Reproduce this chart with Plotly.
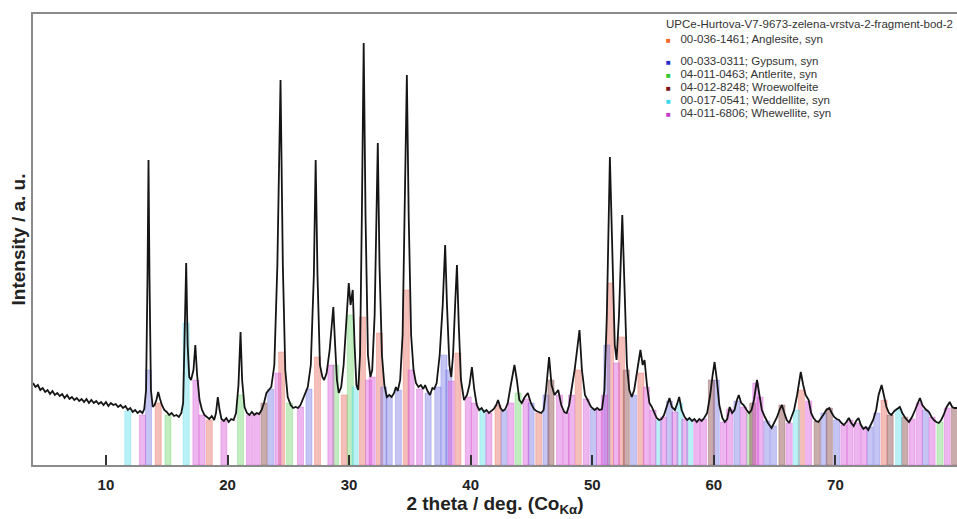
import plotly.graph_objects as go

# ---------------- measured pattern (2theta, intensity a.u.) ----------------
two_theta = [
    4.0, 4.2, 4.4, 4.6, 4.8, 5.0, 5.2, 5.4, 5.6, 5.8, 6.0, 6.2, 6.4, 6.6, 6.8, 7.0, 7.2, 7.4, 7.6, 7.8,
    8.0, 8.2, 8.4, 8.6, 8.8, 9.0, 9.2, 9.4, 9.6, 9.8, 10.0, 10.2, 10.4, 10.6, 10.8, 11.0, 11.2, 11.4, 11.6, 11.8,
    12.0, 12.2, 12.4, 12.6, 12.8, 13.0, 13.15,
    13.3, 13.42, 13.5, 13.58, 13.7, 13.85, 14.0, 14.15, 14.3, 14.45, 14.6, 14.8, 15.0, 15.2, 15.4, 15.6, 15.8, 16.0, 16.2, 16.35,
    16.45, 16.6, 16.72, 16.85, 17.0, 17.2, 17.35, 17.5, 17.7, 17.9, 18.1, 18.3, 18.5, 18.7, 18.9, 19.05, 19.2, 19.35, 19.5, 19.7,
    19.9, 20.1, 20.3, 20.5, 20.7,
    20.9, 21.07, 21.2, 21.4, 21.6, 21.8, 22.0, 22.2, 22.4, 22.6, 22.8, 23.0, 23.2, 23.4, 23.6, 23.85,
    24.1, 24.36, 24.55, 24.75, 24.95, 25.2, 25.4, 25.6, 25.8, 26.0, 26.2, 26.4, 26.6, 26.85,
    27.1, 27.25, 27.4, 27.6, 27.8, 27.95, 28.15, 28.4,
    28.55, 28.7, 28.85, 29.0, 29.15, 29.35, 29.55,
    29.75, 29.97, 30.12, 30.3, 30.45, 30.6, 30.75, 30.9,
    31.05, 31.2, 31.35, 31.55, 31.75, 31.9, 32.1,
    32.22, 32.36, 32.5, 32.7, 32.9, 33.1, 33.3, 33.5, 33.7, 33.85, 34.0, 34.2, 34.4,
    34.6, 34.75, 34.9, 35.1, 35.3, 35.5, 35.7, 35.9, 36.1, 36.25, 36.45, 36.65, 36.85, 37.0, 37.2, 37.45,
    37.7, 37.9, 38.05, 38.25, 38.4, 38.55,
    38.72, 38.87, 39.02, 39.2, 39.45, 39.7, 39.9,
    40.1, 40.3, 40.5, 40.7, 40.9, 41.1, 41.3, 41.5, 41.7, 41.9, 42.1, 42.25, 42.45, 42.65, 42.85, 43.05, 43.3,
    43.6, 43.8, 44.0, 44.2, 44.45, 44.7, 44.95, 45.2, 45.4, 45.6, 45.8, 46.0, 46.2,
    46.45, 46.65, 46.9, 47.2, 47.45, 47.7, 47.9, 48.1, 48.35, 48.55,
    48.95, 49.15, 49.4, 49.7, 49.9, 50.2, 50.4, 50.6, 50.8, 51.0, 51.2,
    51.45, 51.65, 51.85, 52.0, 52.2, 52.47, 52.65, 52.85, 53.05, 53.25, 53.45, 53.7,
    53.96, 54.15, 54.3, 54.5, 54.7, 54.9, 55.1, 55.3, 55.5, 55.7, 55.9, 56.1, 56.35, 56.55, 56.8, 57.0,
    57.15, 57.35, 57.6, 57.8, 58.0, 58.2, 58.4, 58.6, 58.8, 59.0, 59.2, 59.45, 59.7,
    59.9, 60.06, 60.25, 60.45, 60.7, 60.9, 61.1, 61.3, 61.5, 61.7, 61.9, 62.05, 62.25, 62.45, 62.7, 62.9,
    63.1, 63.3,
    63.55, 63.75, 63.95, 64.2, 64.45, 64.75, 64.95, 65.2, 65.4, 65.6, 65.8, 66.0, 66.2, 66.4, 66.6, 66.85,
    67.15, 67.35, 67.55, 67.8, 68.0, 68.2, 68.4, 68.6, 68.8, 69.0, 69.25, 69.5, 69.7, 69.9, 70.1, 70.3,
    70.5, 70.7, 70.9, 71.1, 71.3, 71.5, 71.7, 71.9, 72.1, 72.3, 72.5, 72.7, 72.9, 73.1, 73.35, 73.55,
    73.8, 74.0, 74.2, 74.4, 74.6, 74.85, 75.05, 75.3, 75.5, 75.75, 76.05, 76.3, 76.55, 76.75, 76.95,
    77.15, 77.4, 77.7, 77.9, 78.1, 78.3, 78.5, 78.7, 78.9, 79.15, 79.4, 79.6, 79.8, 80.0,
]
intensity = [
    82, 78, 80, 75, 77, 73, 75, 71, 74, 70, 72, 69, 71, 67, 70, 66, 68, 65, 67, 64,
    66, 63, 66, 62, 65, 62, 64, 61, 63, 60, 63, 59, 62, 60, 61, 58, 60, 57, 59, 55,
    57, 53, 55, 52, 54, 52, 56,
    75, 190, 305, 190, 75, 58, 60, 65, 73, 66, 60, 55, 53, 50, 52, 49, 50, 48, 52, 62,
    110, 202, 120, 88, 85, 95, 120, 90, 65, 55, 50, 48, 46, 49, 45, 52, 68, 55, 46, 44,
    47, 43, 46, 45, 52,
    80, 133, 85, 58, 52, 50, 53, 50, 52, 51, 55, 62, 72, 75, 78, 100,
    200, 385, 200, 95, 68, 60, 57, 58, 57, 60, 66, 72, 78, 100,
    190, 305, 190, 100, 88, 85, 92, 115,
    135, 158, 120, 85, 72, 78, 100,
    140, 182, 160, 175, 120, 80, 75, 110,
    250, 422, 250, 110, 88, 95, 150,
    230, 322, 200, 110, 80, 68, 70, 68, 72, 78, 74, 85, 130,
    280, 390, 250, 130, 95, 82, 78, 80, 76, 80, 74, 70, 77, 76, 82, 110,
    160, 220, 160, 100, 88, 110,
    160, 200, 140, 85, 65, 70, 80,
    98, 75, 60, 55, 57, 53, 55, 52, 54, 56, 60, 65, 57, 54, 56, 62, 80,
    100, 85, 65, 62, 68, 72, 62, 56, 54, 53, 52, 55, 75,
    108, 80, 70, 75, 60, 53, 52, 60, 80, 95,
    135, 95, 70, 62, 58, 55, 57, 55, 56, 75, 150,
    308, 200, 120, 105, 150, 250, 170, 100, 75, 68, 75, 95,
    115, 100, 105, 80, 62, 58, 52, 47, 45, 46, 50, 58, 67, 58, 55, 62,
    68, 55, 48, 45, 47, 44, 46, 43, 46, 44, 47, 52, 70,
    90, 103, 85, 60, 47, 43, 46, 58, 52, 55, 65, 70, 62, 60, 55, 52,
    55, 65,
    85, 72, 55, 48, 42, 37, 42, 48, 55, 60, 52, 45, 42, 48, 55, 70,
    93, 80, 70, 65, 52, 47, 44, 43, 46, 50, 55, 57, 52, 48, 46, 45,
    42, 40, 43, 47, 42, 39, 44, 47, 40, 36, 38, 35, 40, 45, 55, 70,
    80, 70, 58, 52, 50, 54, 56, 58, 52, 47, 43, 48, 55, 62, 67,
    60, 56, 53, 48, 45, 43, 42, 45, 50, 58, 63, 58, 57, 57,
]

# ---------------- reference phases (stick positions / heights) ----------------
anglesite_x = [14.3, 18.5, 24.45, 27.4, 29.6, 31.1, 32.5, 34.7, 38.95, 42.25, 45.6, 48.85, 51.5, 52.4, 54.0, 67.2, 74.0]
anglesite_h = [62, 45, 113, 108, 70, 148, 132, 175, 112, 60, 52, 95, 182, 128, 92, 75, 65]

gypsum_x = [13.5, 23.55, 26.7, 32.85, 33.3, 34.05, 36.5, 37.3, 37.8, 38.2, 42.75, 44.97, 46.2, 50.1, 51.2,
            53.4, 56.35, 60.2, 61.9, 64.35, 64.9, 69.05, 70.1, 72.85, 73.4, 77.4]
gypsum_h = [95, 76, 76, 78, 68, 75, 72, 78, 110, 95, 55, 62, 70, 56, 120, 70, 64, 85, 64, 44, 39, 52, 45, 38, 52, 55]

antlerite_x = [15.1, 21.07, 25.1, 28.9, 30.1, 43.9, 62.95, 78.6]
antlerite_h = [50, 70, 62, 100, 150, 72, 53, 43]

wroewolfeite_x = [23.0, 46.6, 52.8, 59.8, 63.2, 65.6, 68.5, 69.5, 74.5, 75.7, 79.8]
wroewolfeite_h = [62, 85, 95, 85, 62, 60, 44, 57, 50, 48, 57]

weddellite_x = [11.8, 16.6, 30.5, 41.0, 55.45, 57.2, 58.0, 66.8, 75.2]
weddellite_h = [54, 142, 78, 55, 45, 62, 46, 55, 56]

whewellite_x = [13.0, 17.4, 17.9, 19.7, 21.8, 22.4, 24.15, 26.0, 28.5, 31.6, 31.9, 35.1, 35.8, 38.4, 39.8,
                40.3, 41.5, 43.3, 44.55, 47.3, 47.85, 48.3, 49.5, 50.6, 51.0, 52.0, 54.45, 55.0, 55.85, 56.8,
                57.6, 58.6, 59.15, 60.8, 61.3, 62.45, 63.45, 63.8, 66.2, 67.8, 70.7, 71.2, 71.8, 72.35, 76.3,
                76.9, 77.95, 79.2]
whewellite_h = [50, 85, 50, 44, 50, 52, 92, 58, 100, 85, 88, 95, 76, 84, 68,
                62, 52, 62, 66, 70, 52, 70, 66, 55, 70, 102, 78, 55, 48, 53,
                46, 44, 46, 43, 56, 58, 82, 68, 42, 64, 40, 45, 42, 38, 46,
                62, 48, 57]

legend_title = "UPCe-Hurtova-V7-9673-zelena-vrstva-2-fragment-bod-2"
phase_names = ["00-036-1461; Anglesite, syn", "00-033-0311; Gypsum, syn", "04-011-0463; Antlerite, syn",
               "04-012-8248; Wroewolfeite", "00-017-0541; Weddellite, syn", "04-011-6806; Whewellite, syn"]
x_ticks = [10, 20, 30, 40, 50, 60, 70]

phases = [
    (anglesite_x, anglesite_h, "rgba(232,112,100,0.45)", "#f06a24"),
    (gypsum_x, gypsum_h, "rgba(110,110,228,0.40)", "#2430c8"),
    (antlerite_x, antlerite_h, "rgba(100,210,100,0.40)", "#30c830"),
    (wroewolfeite_x, wroewolfeite_h, "rgba(150,90,90,0.50)", "#7a1414"),
    (weddellite_x, weddellite_h, "rgba(80,220,236,0.40)", "#38d8f0"),
    (whewellite_x, whewellite_h, "rgba(214,80,214,0.42)", "#c040c8"),
]

fig = go.Figure()
for (px, ph, fill, solid), name in zip(phases, phase_names):
    fig.add_trace(go.Bar(x=px, y=ph, width=0.5, name=name,
                         marker=dict(color=fill, line=dict(color=fill, width=0.8)),
                         showlegend=False, hoverinfo="skip"))

fig.add_trace(go.Scatter(x=two_theta, y=intensity, mode="lines", name=legend_title,
                         line=dict(color="#151515", width=1.8), showlegend=False))


# legend drawn as text annotations (pixel positions converted to paper coordinates)
def px_x(p):
    return (p - 33) / 924


def px_y(p):
    return (465 - p) / 451


annots = [dict(xref="paper", yref="paper", x=px_x(664), y=px_y(24),
               xanchor="left", yanchor="middle", showarrow=False,
               text=legend_title, font=dict(family="Liberation Sans", size=11.5, color="#333"))]
legend_rows = [39, 61, 74, 87, 100, 113]
for (px, ph, fill, solid), name, yy in zip(phases, phase_names, legend_rows):
    annots.append(dict(xref="paper", yref="paper", x=px_x(664), y=px_y(yy),
                       xanchor="left", yanchor="middle", showarrow=False,
                       text=f"<span style='color:{solid};font-size:8px'>■</span>   {name}",
                       font=dict(family="Liberation Sans", size=11.5, color="#333")))

fig.update_layout(
    width=957, height=519,
    margin=dict(l=33, r=0, t=14, b=54),
    paper_bgcolor="white", plot_bgcolor="white",
    barmode="overlay",
    annotations=annots,
    font=dict(family="Liberation Sans"),
)
fig.update_xaxes(range=[4, 80], tickvals=x_ticks, ticks="inside", ticklen=10, tickwidth=2,
                 tickcolor="#333", showline=True, mirror=True, linecolor="#8a8a8a", linewidth=2,
                 showgrid=False, zeroline=False, ticklabelstandoff=5, automargin=False,
                 tickfont=dict(family="Liberation Sans", size=15, color="#222", weight="bold"),
                 title=dict(text="<b>2 theta / deg. (Co<sub>Kα</sub>)</b>", standoff=3,
                            font=dict(family="Liberation Sans", size=19, color="#222")))
fig.update_yaxes(range=[0, 451], showticklabels=False, ticks="", showline=True, mirror=True,
                 linecolor="#8a8a8a", linewidth=2, showgrid=False, zeroline=False, automargin=False,
                 title=dict(text="<b>Intensity / a. u.</b>", standoff=0,
                            font=dict(family="Liberation Sans", size=19, color="#222")))

fig.write_html("out.html")
